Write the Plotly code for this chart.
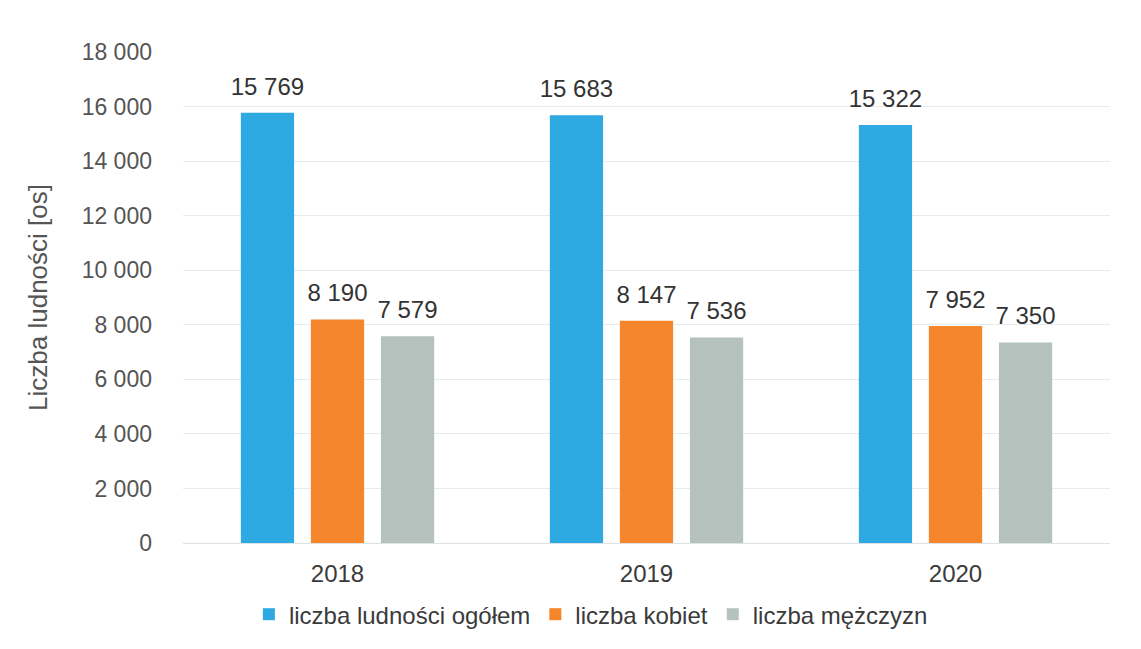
import plotly.graph_objects as go

years = ["2018", "2019", "2020"]
ogolem = [15769, 15683, 15322]
kobiety = [8190, 8147, 7952]
mezczyzni = [7579, 7536, 7350]
series_names = ["liczba ludności ogółem", "liczba kobiet", "liczba mężczyzn"]
colors = ["#2EA9E1", "#F5862B", "#B5C1BC"]

def fmt(v):
    return f"{v:,}".replace(",", " ")

fig = go.Figure()
for i, (name, vals, col) in enumerate(zip(series_names, [ogolem, kobiety, mezczyzni], colors)):
    fig.add_trace(go.Bar(
        x=years, y=vals, name=name, marker=dict(color=col, line=dict(width=0)),
        offsetgroup=str(i), hoverinfo="y+name",
    ))
for i, vals in enumerate([ogolem, kobiety, mezczyzni]):
    fig.add_trace(go.Scatter(
        x=years, y=vals, mode="markers+text", offsetgroup=str(i),
        text=[fmt(v) for v in vals], textposition="top center",
        marker=dict(size=18, opacity=0), cliponaxis=False, showlegend=False,
        hoverinfo="skip",
        textfont=dict(size=24, color="#333333", family="Liberation Sans, Arial"),
    ))

fig.update_layout(
    width=1141, height=649,
    margin=dict(l=175, r=39, t=44, b=114, autoexpand=False),
    paper_bgcolor="white", plot_bgcolor="white",
    font=dict(family="Liberation Sans, Arial", color="#555555", size=20),
    separators=", ",
    barmode="group", bargap=0.32, bargroupgap=0.24,
    scattermode="group", scattergap=0.32,
    showlegend=True,
    legend=dict(orientation="h", x=0.44, xanchor="center", y=-0.1, yanchor="top",
                font=dict(size=24, color="#3a3a3a"), itemwidth=30, traceorder="normal"),
)
fig.update_yaxes(
    range=[0, 18000], dtick=2000, tickformat=",d",
    showgrid=True, gridcolor="#E6ECEE", gridwidth=1,
    zeroline=True, zerolinecolor="#DDE3E5", zerolinewidth=1,
    showline=False, ticks="", ticklabelstandoff=30,
    tickfont=dict(size=23, color="#555555"),
    title=dict(text="Liczba ludności [os]", font=dict(size=26, color="#555555"), standoff=26),
)
fig.update_xaxes(
    showline=False, showgrid=False, ticks="", ticklabelstandoff=14,
    tickfont=dict(size=24, color="#3a3a3a"),
)

fig.write_html("out.html")
